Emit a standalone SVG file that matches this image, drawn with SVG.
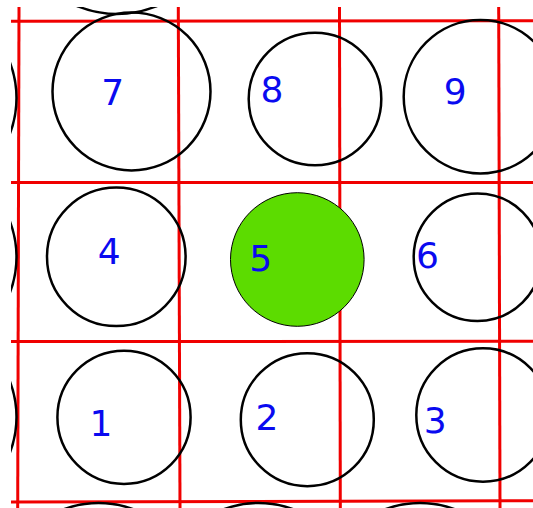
<svg xmlns="http://www.w3.org/2000/svg" width="533" height="508" viewBox="0 0 533 508">
  <defs>
    <clipPath id="view">
      <rect x="11" y="7" width="522" height="501"/>
    </clipPath>
    <style>
      .c { fill: none; stroke: #000; stroke-width: 2.5; }
      .g { fill: #5cdc00; stroke: #000; stroke-width: 1; }
      .t { font-family: "DejaVu Sans", sans-serif; font-size: 36px; fill: #0a0af0; text-anchor: middle; }
      .r { stroke: #f00000; stroke-width: 3; fill: none; }
    </style>
  </defs>
  <rect width="533" height="508" fill="#fff"/>
  <g clip-path="url(#view)">
    <g id="connectors">
      <line class="r" x1="11" y1="21.3" x2="533" y2="20.7"/>
      <line class="r" x1="11" y1="182.6" x2="533" y2="182.4"/>
      <line class="r" x1="11" y1="341.5" x2="533" y2="341.3"/>
      <line class="r" x1="11" y1="502" x2="533" y2="500.7"/>
      <line class="r" x1="19" y1="7" x2="17.7" y2="508"/>
      <line class="r" x1="178.3" y1="7" x2="180" y2="508"/>
      <line class="r" x1="339.5" y1="7" x2="340.3" y2="508"/>
      <line class="r" x1="498.7" y1="7" x2="500" y2="508"/>
    </g>
    <g id="partials">
      <circle class="c" cx="117" cy="-90" r="104"/>
      <circle class="c" cx="-83.5" cy="98" r="100"/>
      <circle class="c" cx="-83.5" cy="257" r="100"/>
      <circle class="c" cx="-83.5" cy="417" r="100"/>
      <circle class="c" cx="98.6" cy="603" r="100"/>
      <circle class="c" cx="258.5" cy="603" r="100"/>
      <circle class="c" cx="420" cy="603" r="100"/>
    </g>
    <g id="node7"><circle class="c" cx="131.5" cy="91.5" r="79"/><text class="t" x="112.7" y="105">7</text></g>
    <g id="node8"><circle class="c" cx="315" cy="99" r="66.3"/><text class="t" x="272" y="101.7">8</text></g>
    <g id="node9"><circle class="c" cx="480.4" cy="96.7" r="76.7"/><text class="t" x="455.3" y="104">9</text></g>
    <g id="node4"><circle class="c" cx="116.3" cy="256.8" r="69.3"/><text class="t" x="109.3" y="264">4</text></g>
    <g id="node5"><circle class="g" cx="297.3" cy="259.5" r="66.8"/><text class="t" x="260.8" y="270.7">5</text></g>
    <g id="node6"><circle class="c" cx="477.5" cy="257.2" r="63.8"/><text class="t" x="427.5" y="268.3">6</text></g>
    <g id="node1"><circle class="c" cx="124" cy="417.3" r="66.6"/><text class="t" x="101" y="436">1</text></g>
    <g id="node2"><circle class="c" cx="307.3" cy="419.7" r="66.5"/><text class="t" x="267" y="430">2</text></g>
    <g id="node3"><circle class="c" cx="483" cy="415" r="66.7"/><text class="t" x="435.2" y="433.3">3</text></g>
  </g>
</svg>
